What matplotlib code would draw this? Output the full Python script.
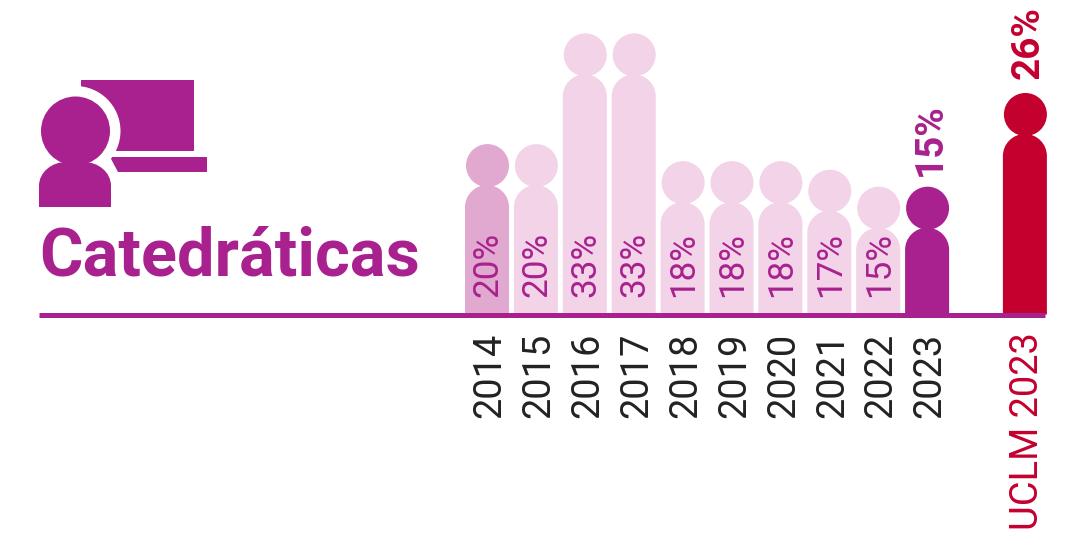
import matplotlib
matplotlib.use("Agg")
import matplotlib.pyplot as plt
from matplotlib.patches import Circle, Ellipse, PathPatch, Polygon, Rectangle
from matplotlib.path import Path
from matplotlib.transforms import ScaledTranslation

plt.rcParams['font.family'] = ['Roboto', 'DejaVu Sans']

years = ['2014', '2015', '2016', '2017', '2018', '2019', '2020', '2021', '2022', '2023']
values = [20, 20, 33, 33, 18, 18, 18, 17, 15, 15]
uclm_label = 'UCLM 2023'
uclm_value = 26
title = 'Catedráticas'

PURPLE = '#A8218E'
LIGHT = '#F2D3E8'
MEDIUM = '#E1A9D0'
RED = '#C4002F'
DARK = '#222222'

W, H = 1070, 544
PX_X = 48.9   # pixels per category
PX_Y = 8.52   # pixels per percentage point
X0 = 487.0    # pixel of the first category
Y0 = 314.5    # pixel of the zero line


def person(ax, x, value, color):
    # a head and a round shouldered body, top of the head sits at the value
    hw = 22 / PX_X
    ry = 22 / PX_Y
    top = value - 41 / PX_Y
    k = 0.5523
    verts = [(x - hw, 0), (x - hw, top - ry),
             (x - hw, top - ry + k * ry), (x - k * hw, top), (x, top),
             (x + k * hw, top), (x + hw, top - ry + k * ry), (x + hw, top - ry),
             (x + hw, 0), (x - hw, 0)]
    codes = [Path.MOVETO, Path.LINETO, Path.CURVE4, Path.CURVE4, Path.CURVE4,
             Path.CURVE4, Path.CURVE4, Path.CURVE4, Path.LINETO, Path.CLOSEPOLY]
    ax.add_patch(PathPatch(Path(verts, codes), fc=color, ec='none', zorder=2))
    ax.add_patch(Ellipse((x + 0.5 / PX_X, value - 21.5 / PX_Y), 43 / PX_X, 43 / PX_Y,
                         fc=color, ec='none', zorder=2))


fig = plt.figure(figsize=(W / 100, H / 100), dpi=100)
ax = fig.add_axes([0, 0, 1, 1])
ax.set_xlim(-X0 / PX_X, (W - X0) / PX_X)
ax.set_ylim(-(H - Y0) / PX_Y, Y0 / PX_Y)
ax.patch.set_alpha(0)

positions = list(range(len(years)))
uclm_pos = 11.0
# rotated text sits a little left of its anchor
nudge = ScaledTranslation(3 / 100, 0, fig.dpi_scale_trans)
nudge_inner = ScaledTranslation(1 / 100, 0, fig.dpi_scale_trans)

for i, (x, v) in enumerate(zip(positions, values)):
    if i == len(years) - 1:
        color = PURPLE
    elif i == 0:
        color = MEDIUM
    else:
        color = LIGHT
    person(ax, x, v, color)
    if i < len(years) - 1:
        ax.text(x, 2.05, f'{v}%', rotation=90, ha='center', va='bottom',
                fontsize=25.3, color=PURPLE, zorder=3, transform=ax.transData + nudge_inner)
    else:
        ax.text(x, v + 1.2, f'{v}%', rotation=90, ha='center', va='bottom',
                fontsize=27.8, fontweight='bold', color=PURPLE, zorder=3,
                transform=ax.transData + nudge)

person(ax, uclm_pos, uclm_value, RED)
ax.text(uclm_pos, uclm_value + 1.6, f'{uclm_value}%', rotation=90, ha='center', va='bottom',
        fontsize=27.8, fontweight='bold', color=RED, zorder=3, transform=ax.transData + nudge)

# axis line and tick labels
for name in ['top', 'left', 'right']:
    ax.spines[name].set_visible(False)
ax.spines['bottom'].set_position(('data', 0))
ax.spines['bottom'].set_bounds((39 - X0) / PX_X, (1045 - X0) / PX_X)
ax.spines['bottom'].set_color(PURPLE)
ax.spines['bottom'].set_linewidth(3.6)
ax.spines['bottom'].set_capstyle('butt')
ax.spines['bottom'].set_zorder(4)
ax.set_yticks([])
ax.set_xticks(positions + [uclm_pos])
ax.set_xticklabels(years + [uclm_label], rotation=90, fontsize=27.4)
ax.tick_params(axis='x', length=0, pad=13)
for lab in ax.get_xticklabels():
    lab.set_color(DARK)
    lab.set_transform(lab.get_transform() + nudge)
ax.get_xticklabels()[-1].set_color(RED)

ax.text((39 - X0) / PX_X, (Y0 - 276) / PX_Y, title, fontsize=48, fontweight='bold',
        color=PURPLE, ha='left', va='baseline')

# icon, drawn in pixel coordinates
ic = fig.add_axes([0, 0, 1, 1])
ic.set_xlim(0, W)
ic.set_ylim(H, 0)
ic.axis('off')
ic.add_patch(Rectangle((81, 80), 113, 71, fc=PURPLE, ec='none'))
ic.add_patch(Polygon([(110, 157), (207, 157), (207, 172), (118, 172)], fc=PURPLE, ec='none'))
ic.add_patch(Circle((75.5, 131), 45, fc='white', ec='none'))
body = Path([(39, 207), (39, 186), (39, 172), (52, 162), (66, 162), (84, 162),
             (98, 162), (111, 172), (111, 186), (111, 207), (39, 207)],
            [Path.MOVETO, Path.LINETO, Path.CURVE4, Path.CURVE4, Path.CURVE4,
             Path.LINETO, Path.CURVE4, Path.CURVE4, Path.CURVE4, Path.LINETO, Path.CLOSEPOLY])
ic.add_patch(PathPatch(body, fc=PURPLE, ec='none'))
ic.add_patch(Circle((75.5, 131), 34.5, fc=PURPLE, ec='none'))

fig.savefig('out.png', dpi=100)
